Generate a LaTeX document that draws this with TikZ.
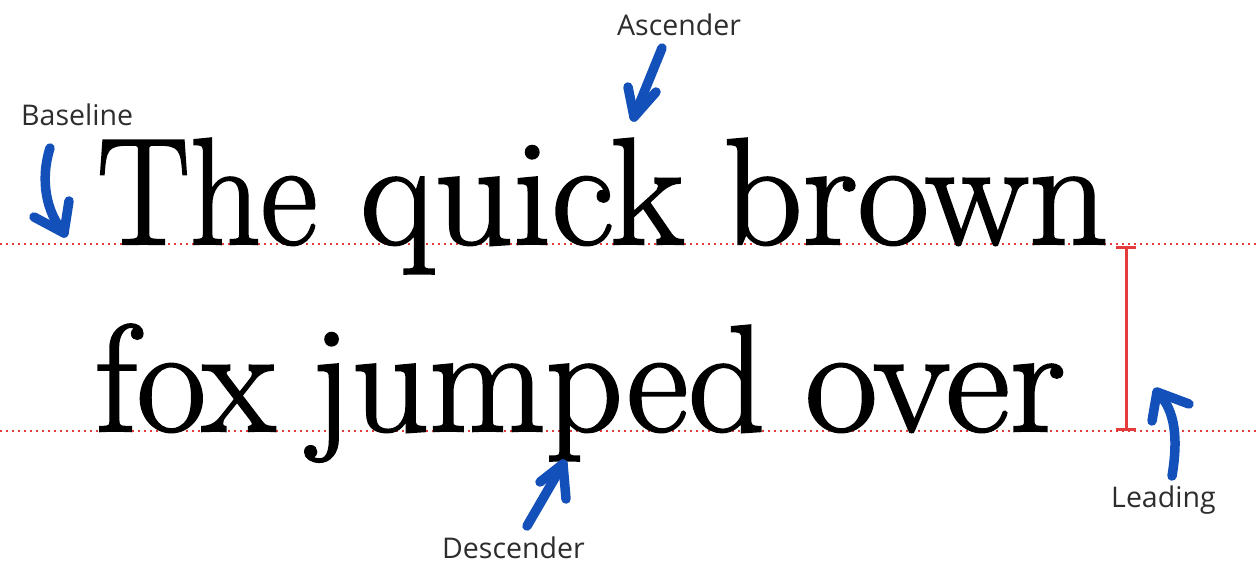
\documentclass[tikz,border=0pt]{standalone}
\usepackage{fontspec}
\newfontfamily\labelfont{Open Sans}
\newfontfamily\bigfont[FakeBold=1.6]{Latin Modern Roman}
\usepackage{graphicx}
\definecolor{arrowblue}{RGB}{20,80,185}
\definecolor{guidered}{RGB}{228,60,60}
\definecolor{labelgrey}{RGB}{45,45,45}
\begin{document}
\begin{tikzpicture}[x=1pt,y=-1pt,
  lbl/.style={font=\labelfont\fontsize{28.5}{28.5}\selectfont, text=labelgrey, inner sep=0pt, anchor=base west},
  word/.style={font=\bigfont\fontsize{152}{152}\selectfont, inner sep=0pt, anchor=base west},
  guide/.style={guidered, line width=2.6pt, dash pattern=on 2.4pt off 3.6pt},
  leadbar/.style={guidered, line width=3pt},
  handarrow/.style={arrowblue, line width=9.5pt, line cap=round, line join=round}]
\useasboundingbox[fill=white] (0,0) rectangle (1260,566);

% guide lines
\coordinate (g1l) at (0,244);
\coordinate (g1r) at (1260,244);
\coordinate (g2l) at (0,431);
\coordinate (g2r) at (1260,431);
\draw[guide] (g1l) -- (g1r);
\draw[guide] (g2l) -- (g2r);

% big words
\node[word] (w1) at (97,244) {\resizebox{220pt}{\height}{The}};
\node[word] (w2) at (360,244) {\resizebox{324pt}{\height}{quick}};
\node[word] (w3) at (723,244) {\resizebox{385pt}{\height}{brown}};
\node[word] (w4) at (95,431) {\resizebox{180pt}{\height}{fox}};
\node[word] (w5) at (310,431) {\resizebox{455pt}{\height}{jumped}};
\node[word] (w6) at (805,431) {\resizebox{260pt}{\height}{over}};

% leading bar
\coordinate (lt) at (1126,247);
\coordinate (lb) at (1126,429);
\coordinate (ltl) at (1116,247);
\coordinate (ltr) at (1136,247);
\coordinate (lbl) at (1116,429);
\coordinate (lbr) at (1136,429);
\draw[leadbar] (lt) -- (lb);
\draw[leadbar] (ltl) -- (ltr);
\draw[leadbar] (lbl) -- (lbr);

% labels
\node[lbl] (baseline) at (21,125) {Baseline};
\node[lbl] (ascender) at (617,35) {Ascender};
\node[lbl] (descender) at (442,558) {Descender};
\node[lbl] (leading) at (1111,507) {Leading};

% baseline arrow
\coordinate (ba0) at (50,148);
\coordinate (ba1) at (64,233);
\coordinate (bah1) at (34,217);
\coordinate (bah2) at (69,201);
\draw[handarrow] (ba0) .. controls (40,180) and (46,212) .. (ba1);
\draw[handarrow] (bah1) -- (ba1) -- (bah2);

% ascender arrow
\coordinate (aa0) at (662,48);
\coordinate (aa1) at (634,117);
\coordinate (aah1) at (628,87);
\coordinate (aah2) at (656,92);
\draw[handarrow] (aa0) -- (aa1);
\draw[handarrow] (aah1) -- (aa1) -- (aah2);

% descender arrow
\coordinate (da0) at (527,526);
\coordinate (da1) at (563,464);
\coordinate (dah1) at (540,482);
\coordinate (dah2) at (566,499);
\draw[handarrow] (da0) -- (da1);
\draw[handarrow] (dah1) -- (da1) -- (dah2);

% leading arrow
\coordinate (la0) at (1172,476);
\coordinate (la1) at (1157,392);
\coordinate (lah1) at (1152,421);
\coordinate (lah2) at (1189,404);
\draw[handarrow] (la0) .. controls (1178,440) and (1176,410) .. (la1);
\draw[handarrow] (lah1) -- (la1) -- (lah2);
\end{tikzpicture}
\end{document}
